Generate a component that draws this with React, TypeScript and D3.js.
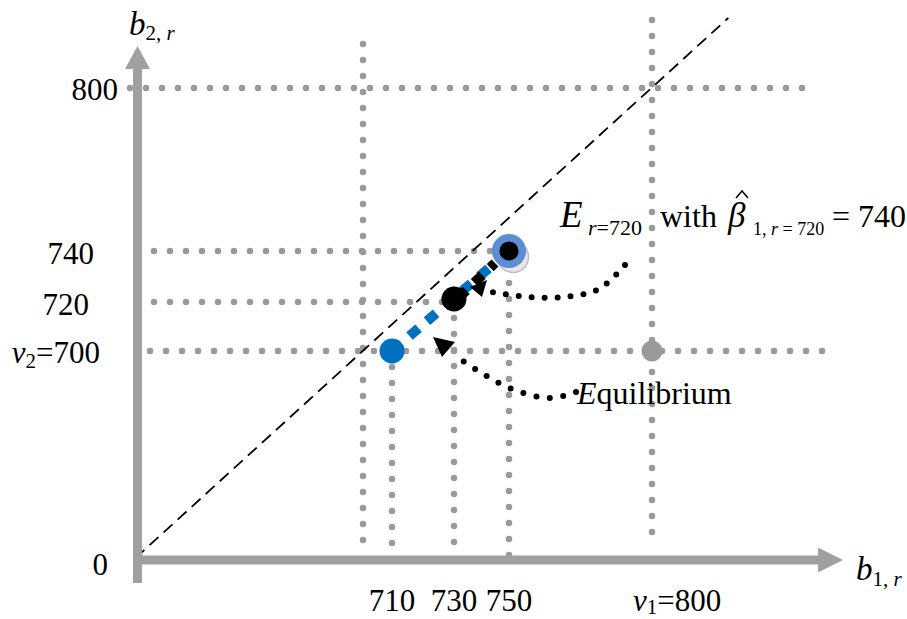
import React from "react";
import * as d3 from "d3";

const W = 907;
const H = 619;

// values (schematic, piecewise axes)
const xBreaks = [0, 700, 710, 730, 750, 800];
const yBreaks = [0, 700, 720, 740, 800];
const xTickValues = [710, 730, 750];
const xTickLabels = ["710", "730", "750"];
const yTickValues = [740, 720];
const yTickLabels = ["740", "720"];
const v1 = 800;
const v2 = 700;
const unlabeledX = 700;

const bluePoint = { b1: 710, b2: 700 };
const blackPoint = { b1: 730, b2: 720 };
const eqPoint = { b1: 750, b2: 740 };
const grayPoint = { b1: 800, b2: 700 };

const serif = "'Liberation Serif', 'Times New Roman', serif";

function T(props: any) {
  const { style, ...rest } = props;
  return <text {...rest} style={{ fontFamily: serif, ...(style || {}) }} />;
}

export default function App() {
  const x = d3.scaleLinear().domain(xBreaks).range([137.5, 363, 392, 454, 509, 652]);
  const y = d3.scaleLinear().domain(yBreaks).range([560, 351, 302, 251, 88]);

  const gray = "#a0a0a0";
  const dotGray = "#9a9a9a";
  const blue = "#0070c0";
  const ringBlue = "#5b8ed6";

  const dotted = {
    stroke: dotGray,
    strokeWidth: 6.5,
    strokeLinecap: "round" as const,
    strokeDasharray: "0 16",
    fill: "none",
  };

  const line = d3.line<[number, number]>();
  const curve = d3.line<[number, number]>().curve(d3.curveCatmullRom.alpha(0.5));
  const p = (b1: number, b2: number, dx = 0, dy = 0): [number, number] => [x(b1) + dx, y(b2) + dy];

  const x0 = x(0), y0 = y(0);
  const P1 = p(800, 800);
  const t = (y0 - 18) / (y0 - P1[1]);
  const diagEnd: [number, number] = [x0 + (P1[0] - x0) * t, 18];

  const curve1: [number, number][] = [
    p(800, 740, -27, 14),
    p(800, 720, -53, -13),
    p(750, 720, 55, -5),
    p(750, 720, 19, -5),
    p(750, 720, -17, -10),
  ];
  const curve2: [number, number][] = [
    p(800, 700, -76, 41),
    p(750, 700, 41, 47),
    p(750, 700, -2, 36),
    p(730, 700, 3, 6),
  ];
  const arrow1 = [p(750, 720, -22, -22), p(750, 720, -39, -15), p(750, 720, -27, -5)];
  const arrow2 = [p(710, 700, 41, -14), p(710, 700, 63, -9), p(710, 700, 50, 6)];
  const tri = (pts: [number, number][]) => `M${pts.map((q) => q.join(",")).join("L")}Z`;

  return (
    <svg width={W} height={H} style={{ display: "block", position: "absolute", left: 0, top: 0 }}>
      <rect width={W} height={H} fill="#fff" />

      {/* dotted guide lines */}
      <path d={line([[130, y(800)], [805, y(800)]])!} style={dotted} />
      <path d={line([[154, y(740)], [x(750), y(740)]])!} style={dotted} />
      <path d={line([[154, y(720)], [x(730), y(720)]])!} style={dotted} />
      <path d={line([[150, y(700)], [826, y(700)]])!} style={dotted} />
      <path d={line([[x(unlabeledX), 44], [x(unlabeledX), 556]])!} style={dotted} />
      <path d={line([[x(710), y(700)], [x(710), 556]])!} style={dotted} />
      <path d={line([[x(730), y(720)], [x(730), 546]])!} style={dotted} />
      <path d={line([[x(750), y(740)], [x(750), 568]])!} style={dotted} />
      <path d={line([[x(800), 20], [x(800), 548]])!} style={dotted} />

      {/* 45-degree line */}
      <path d={line([[x0 - 2, y0 - 2], diagEnd])!} stroke="#000" strokeWidth={1.8} strokeDasharray="12 7" fill="none" />

      {/* axes */}
      <line x1={x0} y1={583} x2={x0} y2={66} stroke={gray} strokeWidth={9} />
      <path d={`M${x0 - 12.5},69 L${x0},46 L${x0 + 12.5},69 Z`} fill={gray} />
      <line x1={133} y1={y0} x2={820} y2={y0} stroke={gray} strokeWidth={9} />
      <path d={`M818,${y0 - 12.5} L843,${y0} L818,${y0 + 12.5} Z`} fill={gray} />

      {/* axis titles */}
      <T x={129} y={35} fontSize={33} style={{ fontStyle: "italic" }}>
        b<tspan fontSize={21} dy={5} fontStyle="normal">2, </tspan><tspan fontSize={21} fontStyle="italic">r</tspan>
      </T>
      <T x={856} y={580} fontSize={33} style={{ fontStyle: "italic" }}>
        b<tspan fontSize={21} dy={6} fontStyle="normal">1, </tspan><tspan fontSize={21} fontStyle="italic">r</tspan>
      </T>

      {/* y tick labels */}
      <T x={118} y={y(800) + 12} textAnchor="end" fontSize={31}>800</T>
      {yTickValues.map((v, i) => (
        <T key={v} x={i === 0 ? 94 : 89} y={y(v) + 13} textAnchor="end" fontSize={31}>{yTickLabels[i]}</T>
      ))}
      <T x={100} y={y(v2) + 12} textAnchor="end" fontSize={31}>
        <tspan fontStyle="italic">v</tspan><tspan fontSize={21} dy={5}>2</tspan><tspan dy={-5}>=700</tspan>
      </T>
      <T x={108} y={y0 + 15} textAnchor="end" fontSize={31}>0</T>

      {/* x tick labels */}
      {xTickValues.map((v, i) => (
        <T key={v} x={x(v)} y={611} textAnchor="middle" fontSize={31}>{xTickLabels[i]}</T>
      ))}
      <T x={x(v1) - 19} y={611} fontSize={31}>
        <tspan fontStyle="italic">v</tspan><tspan fontSize={21} dy={3}>1</tspan><tspan dy={-3}>=800</tspan>
      </T>

      {/* path from blue point to equilibrium */}
      <path d={line([p(bluePoint.b1, bluePoint.b2), p(eqPoint.b1, eqPoint.b2)])!} stroke={blue} strokeWidth={10} strokeDasharray="12 11" fill="none" />
      <path d={line([p(blackPoint.b1, blackPoint.b2), p(eqPoint.b1, eqPoint.b2, -14, 12)])!} stroke="#000" strokeWidth={10} strokeDasharray="11 11" strokeDashoffset={-6} fill="none" />

      {/* points */}
      <circle cx={x(grayPoint.b1)} cy={y(grayPoint.b2)} r={10.5} fill={dotGray} />
      <circle cx={x(bluePoint.b1)} cy={y(bluePoint.b2)} r={12.5} fill={blue} />
      <circle cx={x(blackPoint.b1)} cy={y(blackPoint.b2) - 3} r={12.5} fill="#000" />
      <circle cx={x(eqPoint.b1) + 4} cy={y(eqPoint.b2) + 6} r={15.5} fill="#e8e8e8" stroke="#bdbdbd" strokeWidth={1.5} />
      <circle cx={x(eqPoint.b1)} cy={y(eqPoint.b2)} r={13.3} fill="#000" stroke={ringBlue} strokeWidth={7.5} />

      {/* annotation curves with arrowheads */}
      <path d={curve(curve1)!} stroke="#000" strokeWidth={6} strokeLinecap="round" strokeDasharray="0 13" fill="none" />
      <path d={tri(arrow1)} fill="#000" />
      <path d={curve(curve2)!} stroke="#000" strokeWidth={6} strokeLinecap="round" strokeDasharray="0 13.5" fill="none" />
      <path d={tri(arrow2)} fill="#000" />

      {/* annotation texts */}
      <T x={560} y={227} fontSize={37} style={{ fontStyle: "italic" }}>E</T>
      <T x={588} y={235} fontSize={22}><tspan fontStyle="italic">r</tspan>=720</T>
      <T x={660} y={227} fontSize={32}>with</T>
      <T x={728} y={227} fontSize={35} style={{ fontStyle: "italic" }}>β</T>
      <path d={line([p(800, 800, 84, 110), p(800, 800, 90, 103), p(800, 800, 96, 110)])!} stroke="#000" strokeWidth={1.5} fill="none" />
      <T x={753} y={235} fontSize={18}>1, <tspan fontStyle="italic">r</tspan> = 720</T>
      <T x={832} y={227} fontSize={32}>= 740</T>

      <T x={577} y={404} fontSize={32}>
        <tspan fontStyle="italic">E</tspan>quilibrium
      </T>
    </svg>
  );
}
